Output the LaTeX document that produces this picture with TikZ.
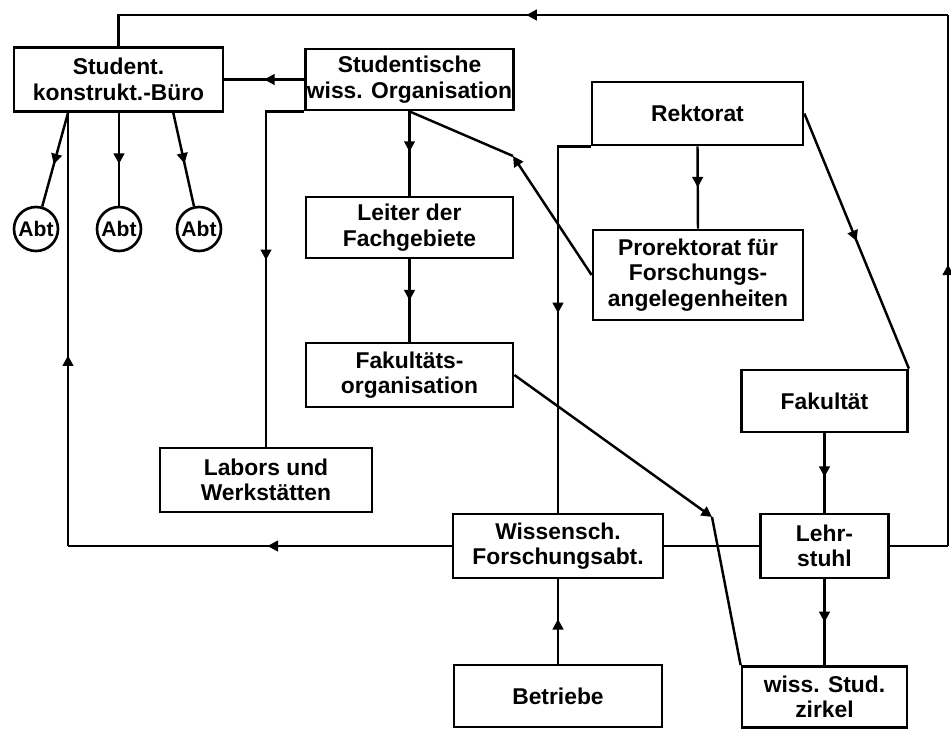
\documentclass[tikz,border=0pt]{standalone}
\usepackage{fontspec}
\setmainfont{Liberation Sans}
\usetikzlibrary{arrows.meta,decorations.markings}
\tikzset{
  org/box/.style={
    draw=black,
    line width=1.6pt,
    fill=white,
    align=center,
    inner xsep=1pt,
    inner ysep=2pt,
    font=\fontsize{13}{14.5}\selectfont\bfseries
  },
  org/abt/.style={
    circle,
    draw=black,
    line width=1.5pt,
    fill=white,
    inner sep=0pt,
    minimum size=0.88cm,
    font=\fontsize{12}{12}\selectfont\bfseries
  },
  org/link/.style={line width=1.4pt, draw=black},
  org/head/.style={line width=1.4pt, draw=black, -{Triangle[length=6pt,width=6pt]}},
  org/tip/.style={
    postaction={decorate},
    decoration={markings, mark=at position #1 with {\arrow{Triangle[length=6pt,width=6pt]}}}
  }
}

\begin{document}
\begin{tikzpicture}[x=0.02cm,y=-0.02cm]
  \useasboundingbox (0,0) rectangle (951,731);

  % boxes
  \node[org/box,minimum width=4.18cm,minimum height=1.28cm] (buero) at (118.5,79.5) {Student.\\konstrukt.-Büro};
  \node[org/box,minimum width=4.14cm,minimum height=1.22cm] (stud) at (409.5,79.5) {Studentische\\wiss. Organisation};
  \node[org/box,minimum width=4.14cm,minimum height=1.22cm] (leiter) at (409.5,227.5) {Leiter der\\Fachgebiete};
  \node[org/box,minimum width=4.14cm,minimum height=1.28cm] (fakorg) at (409.5,375) {Fakultäts-\\organisation};
  \node[org/box,minimum width=4.24cm,minimum height=1.28cm] (labors) at (266,480) {Labors und\\Werkstätten};
  \node[org/box,minimum width=4.22cm,minimum height=1.26cm] (rekt) at (697.5,113.5) {Rektorat};
  \node[org/box,minimum width=4.2cm,minimum height=1.8cm] (prorekt) at (698,275) {Prorektorat für\\Forschungs-\\angelegenheiten};
  \node[org/box,minimum width=3.32cm,minimum height=1.24cm] (fak) at (824.5,401) {Fakultät};
  \node[org/box,minimum width=4.2cm,minimum height=1.28cm] (wiss) at (558,546) {Wissensch.\\Forschungsabt.};
  \node[org/box,minimum width=2.56cm,minimum height=1.28cm] (lehr) at (824.5,546) {Lehr-\\stuhl};
  \node[org/box,minimum width=4.16cm,minimum height=1.24cm] (betr) at (558,696) {Betriebe};
  \node[org/box,minimum width=3.3cm,minimum height=1.22cm] (zirkel) at (824.5,697) {wiss. Stud.\\zirkel};
  \foreach \i/\x in {1/36,2/119,3/199}{
    \node[org/abt] (abt\i) at (\x,229) {Abt};
  }

  % helper points
  \coordinate (ne) at (948,15);
  \coordinate (se) at (948,546);
  \coordinate (bl) at (68,546);
  \coordinate (bt3) at (173,111.5);
  \coordinate (kpro) at (513,156);
  \coordinate (kzir) at (712,517);

  % outer loop
  \draw[org/link] (lehr.east) -- (se);
  \draw[org/link,org/tip=0.53] (se) -- (ne);
  \draw[org/link,org/tip=0.49] (ne) -- (ne -| buero.north) -- (buero.north);
  \draw[org/link,org/tip=0.48] (wiss.west) -- (bl);
  \draw[org/link,org/tip=0.44] (bl) -- (bl |- buero.south);

  % student side
  \draw[org/link,org/tip=0.5] (stud.west) -- (buero.east);
  \draw[org/link,org/tip=0.55] (bl |- buero.south) -- (abt1);
  \draw[org/link,org/tip=0.55] (abt2 |- buero.south) -- (abt2);
  \draw[org/link,org/tip=0.55] (bt3) -- (abt3);
  \draw[org/link,org/tip=0.5] (stud.south west) -| (labors.north);
  \draw[org/link,org/tip=0.48] (stud.south) -- (leiter.north);
  \draw[org/link,org/tip=0.5] (leiter.south) -- (fakorg.north);
  \draw[org/head] (prorekt.west) -- (kpro);
  \draw[org/link] (kpro) -- (stud.south);
  \draw[org/head] (fakorg.east) -- (kzir);
  \draw[org/link] (kzir) -- (zirkel.north west);

  % university side
  \draw[org/link,org/tip=0.5] (rekt.south west) -| (wiss.north);
  \draw[org/link,org/tip=0.5] (rekt.south) -- (prorekt.north);
  \draw[org/link,org/tip=0.5] (rekt.east) -- (fak.north east);
  \draw[org/link,org/tip=0.55] (fak.south) -- (lehr.north);
  \draw[org/link,org/tip=0.5] (lehr.south) -- (zirkel.north);
  \draw[org/link] (wiss.east) -- (lehr.west);
  \draw[org/link,org/tip=0.53] (betr.north) -- (wiss.south);
\end{tikzpicture}
\end{document}
